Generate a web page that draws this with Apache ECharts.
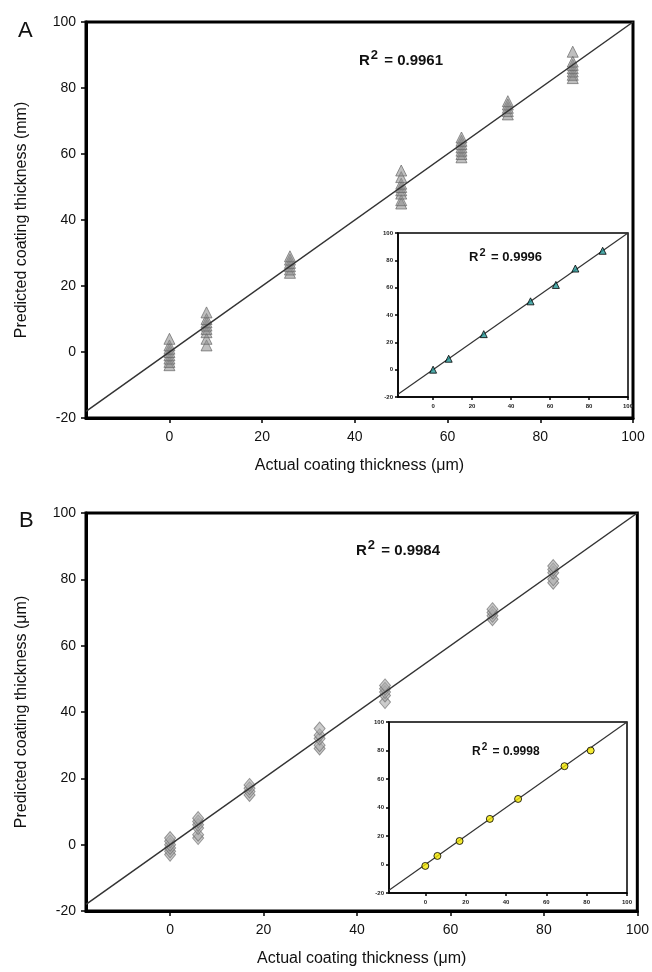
<!DOCTYPE html>
<html>
<head>
<meta charset="utf-8">
<script src="https://cdn.jsdelivr.net/npm/echarts@6/dist/echarts.min.js"></script>
<style>html,body{margin:0;padding:0;background:#fff}#c{width:652px;height:972px}</style>
</head>
<body>
<div id="c"></div>
<script>
// ---- Data ----
const tickValues = [0, 20, 40, 60, 80, 100];
const fitLine = [-18, 100];

// Panel A (main): actual thickness and predicted replicate values
const actualA = [0, 8, 26, 50, 63, 73, 87];
const predA_0 = [-4, -3, -2, -1, 0, 1, 2, 4];
const predA_8 = [2, 4, 6, 7, 8, 9, 10, 12];
const predA_26 = [24, 25, 26, 27, 28, 29];
const predA_50 = [45, 46, 48, 49, 50, 51, 53, 55];
const predA_63 = [59, 60, 61, 62, 63, 64, 65];
const predA_73 = [72, 73, 74, 75, 76];
const predA_87 = [83, 84, 85, 86, 87, 88, 91];
const predA = [predA_0, predA_8, predA_26, predA_50, predA_63, predA_73, predA_87];
// Panel A inset: mean predictions
const insetActualA = [0, 8, 26, 50, 63, 73, 87];
const insetPredA = [0, 8, 26, 50, 62, 74, 87];

// Panel B (main)
const actualB = [0, 6, 17, 32, 46, 69, 82];
const predB_0 = [-3, -2, -1, 0, 1, 2];
const predB_6 = [2, 3, 5, 6, 7, 8];
const predB_17 = [15, 16, 17, 18];
const predB_32 = [29, 30, 32, 33, 35];
const predB_46 = [43, 45, 46, 47, 48];
const predB_69 = [68, 69, 70, 71];
const predB_82 = [79, 80, 82, 83, 84];
const predB = [predB_0, predB_6, predB_17, predB_32, predB_46, predB_69, predB_82];
// Panel B inset
const insetActualB = [0, 6, 17, 32, 46, 69, 82];
const insetPredB = [-1, 6, 16.5, 32, 46, 69, 80];

const r2 = {A: '0.9961', Ainset: '0.9996', B: '0.9984', Binset: '0.9998'};

// ---- Build ----
function flatten(xs, groups) {
  const out = [];
  xs.forEach((x, i) => groups[i].forEach(v => out.push([x, v])));
  return out;
}
function zip(xs, ys) { return xs.map((x, i) => [x, ys[i]]); }

const FONT = 'Liberation Sans, Arial, sans-serif';

function mainX(gi, name) {
  return {
    gridIndex: gi, type: 'value', min: -18, max: 100,
    name: name, nameLocation: 'middle', nameGap: 40,
    nameTextStyle: {fontFamily: FONT, fontSize: 16, color: '#111'},
    axisLine: {show: true, onZero: false, lineStyle: {color: '#000', width: 3}},
    axisTick: {show: true, customValues: tickValues, length: 5, lineStyle: {color: '#000', width: 1.5}},
    axisLabel: {customValues: tickValues, fontFamily: FONT, fontSize: 14, color: '#111', margin: 12},
    splitLine: {show: false}
  };
}
function mainY(gi, name) {
  return {
    gridIndex: gi, type: 'value', min: -20, max: 100, interval: 20,
    name: name, nameLocation: 'middle', nameGap: 56,
    nameTextStyle: {fontFamily: FONT, fontSize: 16, color: '#111'},
    axisLine: {show: true, onZero: false, lineStyle: {color: '#000', width: 3}},
    axisTick: {show: true, length: 5, lineStyle: {color: '#000', width: 1.5}},
    axisLabel: {fontFamily: FONT, fontSize: 14, color: '#111', margin: 10},
    splitLine: {show: false}
  };
}
function insetX(gi) {
  return {
    gridIndex: gi, type: 'value', min: -18, max: 100,
    axisLine: {show: true, onZero: false, lineStyle: {color: '#000', width: 1.5}},
    axisTick: {show: true, customValues: tickValues, length: 3, lineStyle: {color: '#000', width: 1.5}},
    axisLabel: {customValues: tickValues, fontFamily: FONT, fontSize: 6, fontWeight: 'bold', color: '#222', margin: 6},
    splitLine: {show: false}
  };
}
function insetY(gi) {
  return {
    gridIndex: gi, type: 'value', min: -20, max: 100, interval: 20,
    axisLine: {show: true, onZero: false, lineStyle: {color: '#000', width: 1.5}},
    axisTick: {show: true, length: 3, lineStyle: {color: '#000', width: 1.5}},
    axisLabel: {fontFamily: FONT, fontSize: 6, fontWeight: 'bold', color: '#222', margin: 5},
    splitLine: {show: false}
  };
}
function fit(gi, w) {
  return {
    type: 'line', xAxisIndex: gi, yAxisIndex: gi, data: zip(fitLine, fitLine),
    symbol: 'none', lineStyle: {color: '#333', width: w}, silent: true, z: 5
  };
}
function r2Title(left, top, val, size) {
  return {
    left: left, top: top,
    text: '{r|R}{s|2}{r| = ' + val + '}',
    textStyle: {
      rich: {
        r: {fontFamily: FONT, fontWeight: 'bold', fontSize: size, color: '#111', verticalAlign: 'bottom', lineHeight: size + 4},
        s: {fontFamily: FONT, fontWeight: 'bold', fontSize: Math.round(size * 0.85), color: '#111', verticalAlign: 'top', lineHeight: size + 4, padding: [0, 2, 0, 1]}
      }
    }
  };
}

const option = {
  backgroundColor: '#fff',
  animation: false,
  title: [
    {left: 13, top: 15, text: 'A', textStyle: {fontFamily: FONT, fontSize: 22, fontWeight: 'normal', color: '#111'}},
    {left: 14, top: 505, text: 'B', textStyle: {fontFamily: FONT, fontSize: 22, fontWeight: 'normal', color: '#111'}},
    r2Title(354, 44, r2.A, 15),
    r2Title(351, 534, r2.B, 15),
    r2Title(464, 242, r2.Ainset, 13),
    r2Title(467, 737, r2.Binset, 12)
  ],
  grid: [
    {left: 86, top: 22, width: 547, height: 396, show: true, borderColor: '#000', borderWidth: 3, backgroundColor: '#fff'},
    {left: 398, top: 233, width: 230, height: 164, show: true, borderColor: '#000', borderWidth: 1.5, backgroundColor: '#fff'},
    {left: 86, top: 513, width: 552, height: 398, show: true, borderColor: '#000', borderWidth: 3, backgroundColor: '#fff'},
    {left: 389, top: 722, width: 238, height: 171, show: true, borderColor: '#000', borderWidth: 1.5, backgroundColor: '#fff'}
  ],
  xAxis: [
    mainX(0, 'Actual coating thickness (\u03bcm)'),
    insetX(1),
    mainX(2, 'Actual coating thickness (\u03bcm)'),
    insetX(3)
  ],
  yAxis: [
    mainY(0, 'Predicted coating thickness (mm)'),
    insetY(1),
    mainY(2, 'Predicted coating thickness (\u03bcm)'),
    insetY(3)
  ],
  series: [
    {
      type: 'scatter', xAxisIndex: 0, yAxisIndex: 0, data: flatten(actualA, predA),
      symbol: 'triangle', symbolSize: [11, 11],
      itemStyle: {color: 'rgba(140,140,140,0.7)', borderColor: 'rgba(100,100,100,0.85)', borderWidth: 1}, z: 3
    },
    fit(0, 1.5),
    {
      type: 'scatter', xAxisIndex: 1, yAxisIndex: 1, data: zip(insetActualA, insetPredA),
      symbol: 'triangle', symbolSize: 7,
      itemStyle: {color: '#279a9a', borderColor: '#000', borderWidth: 1}, z: 6
    },
    fit(1, 1.2),
    {
      type: 'scatter', xAxisIndex: 2, yAxisIndex: 2, data: flatten(actualB, predB),
      symbol: 'diamond', symbolSize: [11, 13],
      itemStyle: {color: 'rgba(170,170,170,0.75)', borderColor: 'rgba(110,110,110,0.85)', borderWidth: 1}, z: 3
    },
    fit(2, 1.5),
    {
      type: 'scatter', xAxisIndex: 3, yAxisIndex: 3, data: zip(insetActualB, insetPredB),
      symbol: 'circle', symbolSize: 7,
      itemStyle: {color: '#f2e600', borderColor: '#000', borderWidth: 1}, z: 6
    },
    fit(3, 1.2)
  ]
};

const chart = echarts.init(document.getElementById('c'), null, {renderer: 'canvas'});
chart.setOption(option);
</script>
</body>
</html>
